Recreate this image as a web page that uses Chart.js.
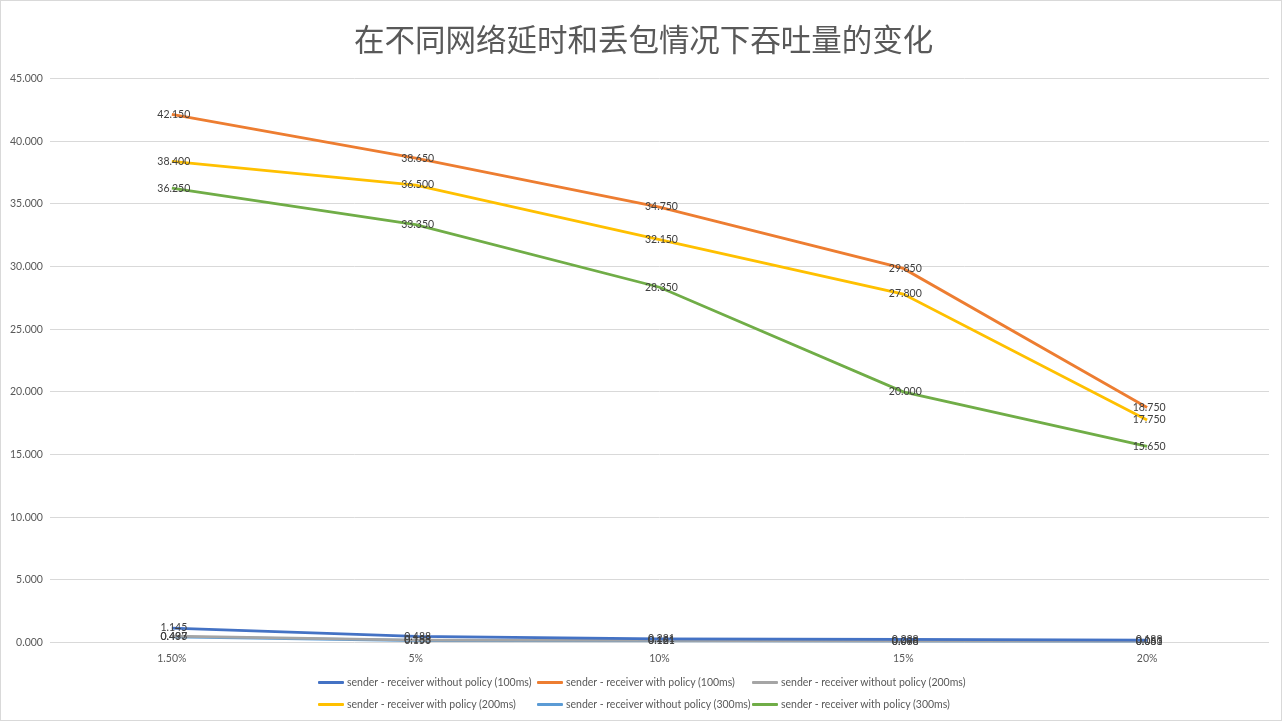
<!DOCTYPE html>
<html>
<head>
<meta charset="utf-8">
<script src="https://cdn.jsdelivr.net/npm/chart.js@4"></script>
<style>
  html, body { margin: 0; padding: 0; background: #fff; }
  #wrap { position: relative; width: 1282px; height: 721px; box-sizing: border-box; border: 1px solid #D9D9D9; }
  #c { position: absolute; left: 0; top: 0; }
  #legend { position: absolute; left: 317px; top: 674px; display: grid; grid-template-columns: 219px 215px auto; row-gap: 8px;
            font-family: Lato, "Open Sans", sans-serif; font-size: 10.5px; color: #595959; }
  .li { display: flex; align-items: center; white-space: nowrap; height: 14px; }
  .sw { width: 26px; height: 3px; margin-right: 3px; border-radius: 1px; }
</style>
</head>
<body>
<div id="wrap"><canvas id="c" width="1280" height="719"></canvas><div id="legend"></div></div>
<script>
const categories = ['1.50%', '5%', '10%', '15%', '20%'];
const seriesNames = [
  'sender - receiver without policy (100ms)',
  'sender - receiver with policy (100ms)',
  'sender - receiver without policy (200ms)',
  'sender - receiver with policy (200ms)',
  'sender - receiver without policy (300ms)',
  'sender - receiver with policy (300ms)'
];
const noPolicy100 = [1.145, 0.488, 0.281, 0.238, 0.188];
const policy100   = [42.150, 38.650, 34.750, 29.850, 18.750];
const noPolicy200 = [0.497, 0.188, 0.161, 0.098, 0.083];
const policy200   = [38.400, 36.500, 32.150, 27.800, 17.750];
const noPolicy300 = [0.433, 0.153, 0.121, 0.088, 0.061];
const policy300   = [36.250, 33.350, 28.350, 20.000, 15.650];
const yTicks = [0, 5, 10, 15, 20, 25, 30, 35, 40, 45];
const colors = ['#4472C4', '#ED7D31', '#A5A5A5', '#FFC000', '#5B9BD5', '#70AD47'];
const seriesData = [noPolicy100, policy100, noPolicy200, policy200, noPolicy300, policy300];

const numFont = 'Lato, "Open Sans", sans-serif';

const valueLabels = {
  id: 'valueLabels',
  afterDatasetsDraw(chart) {
    const ctx = chart.ctx;
    ctx.save();
    ctx.font = '10.5px ' + numFont;
    ctx.fillStyle = '#404040';
    ctx.textAlign = 'center';
    ctx.textBaseline = 'middle';
    chart.data.datasets.forEach((ds, i) => {
      const meta = chart.getDatasetMeta(i);
      meta.data.forEach((pt, j) => {
        ctx.fillText(ds.data[j].toFixed(3), pt.x + 2, pt.y);
      });
    });
    ctx.restore();
  }
};

const chart = new Chart(document.getElementById('c'), {
  type: 'line',
  data: {
    labels: categories,
    datasets: seriesData.map((d, i) => ({
      label: seriesNames[i],
      data: d,
      borderColor: colors[i],
      backgroundColor: colors[i],
      borderWidth: 2.8,
      pointRadius: 0,
      tension: 0,
      fill: false
    }))
  },
  options: {
    responsive: false,
    animation: false,
    layout: { padding: { left: 2, right: 12, top: 0, bottom: 53 } },
    plugins: {
      legend: { display: false },
      tooltip: { enabled: false },
      title: {
        display: true,
        text: '\u2002在不同网络延时和丢包情况下吞吐量的变化',
        color: '#595959',
        font: { family: '"Noto Sans CJK SC", sans-serif', size: 30.5, weight: 'normal' },
        padding: { top: 20, bottom: 21 }
      }
    },
    scales: {
      x: {
        offset: true,
        grid: { display: false },
        border: { display: false },
        ticks: { color: '#595959', font: { family: numFont, size: 10.5 }, padding: 2 }
      },
      y: {
        min: 0, max: 45,
        afterBuildTicks(axis) { axis.ticks = yTicks.map(v => ({ value: v })); },
        grid: { color: '#D9D9D9', drawTicks: false, lineWidth: 1 },
        border: { display: false },
        ticks: {
          color: '#595959',
          font: { family: numFont, size: 10.5 },
          padding: 7,
          callback: v => Number(v).toFixed(3)
        }
      }
    }
  },
  plugins: [valueLabels]
});

const legendEl = document.getElementById('legend');
chart.data.datasets.forEach(ds => {
  const item = document.createElement('div');
  item.className = 'li';
  const sw = document.createElement('span');
  sw.className = 'sw';
  sw.style.background = ds.borderColor;
  const t = document.createElement('span');
  t.textContent = ds.label;
  item.appendChild(sw);
  item.appendChild(t);
  legendEl.appendChild(item);
});
</script>
</body>
</html>
